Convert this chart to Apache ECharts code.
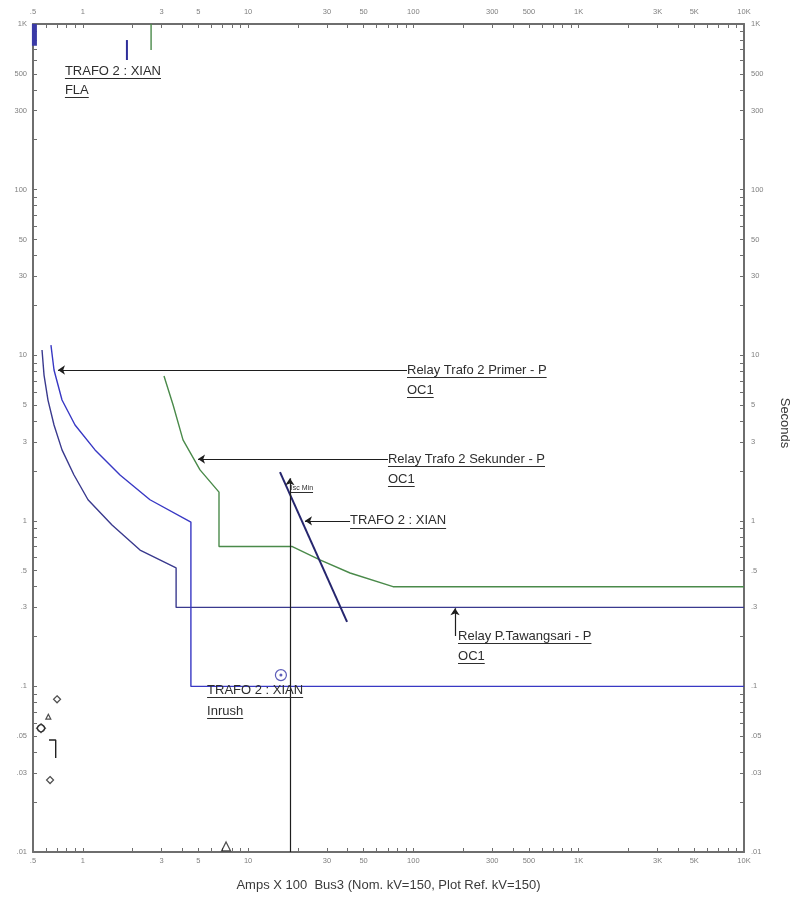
<!DOCTYPE html>
<html><head><meta charset="utf-8">
<script src="https://cdn.jsdelivr.net/npm/echarts@6/dist/echarts.min.js"></script>
<style>html,body{margin:0;padding:0;background:#fff}#c{width:797px;height:902px}</style>
</head><body><div id="c"></div>
<script>
// ---- axis ticks / labels (real values) ----
const xLabelValues = [0.5, 1, 3, 5, 10, 30, 50, 100, 300, 500, 1000, 3000, 5000, 10000];
const xLabelTexts  = ['.5', '1', '3', '5', '10', '30', '50', '100', '300', '500', '1K', '3K', '5K', '10K'];
const yLabelValues = [0.01, 0.03, 0.05, 0.1, 0.3, 0.5, 1, 3, 5, 10, 30, 50, 100, 300, 500, 1000];
const yLabelTexts  = ['.01', '.03', '.05', '.1', '.3', '.5', '1', '3', '5', '10', '30', '50', '100', '300', '500', '1K'];
const xRange = [0.5, 10000];
const yRange = [0.01, 1000];

// ---- curves [amps x100, seconds] ----
const relayTawangsari = [[0.567,10.75],[0.583,7.59],[0.616,5.36],[0.670,3.79],[0.749,2.68],[0.885,1.89],[1.076,1.34],[1.503,0.943],[2.22,0.666],[3.67,0.519],[3.67,0.3],[10000,0.3]];
const relayPrimer = [[0.642,11.5],[0.670,8.14],[0.749,5.36],[0.898,3.79],[1.186,2.68],[1.68,1.89],[2.55,1.34],[4.51,0.983],[4.51,0.1],[10000,0.1]];
const relaySekunder = [[3.10,7.48],[3.52,5.0],[4.04,3.08],[5.12,2.03],[6.67,1.49],[6.67,0.7],[18.4,0.7],[27.2,0.58],[41.4,0.484],[75.3,0.4],[10000,0.4]];
const trafoDamage = [[15.6,1.97],[39.7,0.245]];
const iscMin = [[17.9,0.01],[17.9,1.81]];
const flaPrimer = [[1.85,800],[1.85,606]];
const flaSekunder = [[2.59,1000],[2.59,697]];
const flaTawangsari = [[0.51,1000],[0.51,740]];
const inrushPoint = [[15.8,0.117]];
const diamondMarks = [[0.699,0.0836],[0.634,0.0272]];
const triangleMarks = [[0.619,0.0656]];
const circleMarks = [[0.559,0.0559]];
const bracketMark = [[0.625,0.0475],[0.686,0.0475],[0.686,0.037]];
const aMarks = [[7.36,0.0108]];

// ---- annotation arrows: [tail, head] ----
const arrowPrimer = [[91.5,8.14],[0.708,8.14]];
const arrowSekunder = [[70.2,2.36],[4.98,2.36]];
const arrowTrafo = [[41.4,1.0],[22.1,1.0]];
const arrowTawangsari = [[178.6,0.2015],[178.6,0.2965]];

// ---- annotation texts ----
const notePrimer = ['Relay Trafo 2 Primer - P', 'OC1'];
const noteSekunder = ['Relay Trafo 2 Sekunder - P', 'OC1'];
const noteTrafo = ['TRAFO 2 : XIAN'];
const noteTawangsari = ['Relay P.Tawangsari - P', 'OC1'];
const noteInrush = ['TRAFO 2 : XIAN', 'Inrush'];
const noteFla = ['TRAFO 2 : XIAN', 'FLA'];
const noteIsc = ['Isc Min'];
const anchorInrush = [5.65, 0.0951];
const anchorFla = [0.78, 520];
const anchorIsc = [17.9, 1.58];

const L = v => Math.log10(v);
const T = arr => arr.map(p => [L(p[0]), L(p[1])]);

function minorTicks(lo, hi) {
  const out = [];
  for (let e = Math.floor(L(lo)); e <= Math.ceil(L(hi)); e++) {
    for (let m = 1; m <= 9; m++) {
      const v = m * Math.pow(10, e);
      if (v >= lo * 0.999 && v <= hi * 1.001) out.push(L(v));
    }
  }
  return out;
}
function lookup(vals, texts) {
  return function (v) {
    let best = 0, bd = 1e9;
    vals.forEach((x, i) => { const d = Math.abs(L(x) - v); if (d < bd) { bd = d; best = i; } });
    return bd < 1e-3 ? texts[best] : '';
  };
}

const FONT = 'Liberation Sans, Arial, sans-serif';
const AX = '#6e6e6e';
const labelStyle = { fontSize: 7.5, color: '#808080', fontFamily: FONT };

function xAxisDef(pos, margin, named) {
  return {
    type: 'value', position: pos, min: L(xRange[0]), max: L(xRange[1]),
    axisLine: { show: true, onZero: false, lineStyle: { color: AX, width: 2 } },
    axisTick: { show: true, inside: true, length: 4, customValues: minorTicks(xRange[0], xRange[1]), lineStyle: { color: AX, width: 1 } },
    axisLabel: Object.assign({ customValues: xLabelValues.map(L), formatter: lookup(xLabelValues, xLabelTexts), margin: margin }, labelStyle),
    splitLine: { show: false },
    name: named ? 'Amps X 100  Bus3 (Nom. kV=150, Plot Ref. kV=150)' : '',
    nameLocation: 'middle', nameGap: 27,
    nameTextStyle: { fontSize: 13, color: '#3a3a3a', fontFamily: FONT }
  };
}
function yAxisDef(pos, margin, named) {
  return {
    type: 'value', position: pos, min: L(yRange[0]), max: L(yRange[1]),
    axisLine: { show: true, onZero: false, lineStyle: { color: AX, width: 2 } },
    axisTick: { show: true, inside: true, length: 4, customValues: minorTicks(yRange[0], yRange[1]), lineStyle: { color: AX, width: 1 } },
    axisLabel: Object.assign({ customValues: yLabelValues.map(L), formatter: lookup(yLabelValues, yLabelTexts), margin: margin }, labelStyle),
    splitLine: { show: false },
    name: named ? 'Seconds' : '',
    nameLocation: 'middle', nameGap: 34, nameRotate: -90,
    nameTextStyle: { fontSize: 13, color: '#3a3a3a', fontFamily: FONT, padding: [0, 30, 0, 0] }
  };
}

function lineSeries(data, color, width) {
  return { type: 'line', data: T(data), showSymbol: false, symbol: 'none', silent: true, animation: false,
    lineStyle: { color: color, width: width || 1.4 }, z: 3 };
}
function arrowSeries(seg) {
  return { type: 'lines', coordinateSystem: 'cartesian2d', silent: true, animation: false,
    symbol: ['none', 'arrow'], symbolSize: 7,
    lineStyle: { color: '#1e1e1e', width: 1.2, opacity: 1 }, data: [{ coords: T(seg) }], z: 4 };
}
function scatterSeries(data, symbol, size, color) {
  return { type: 'scatter', data: T(data), symbol: symbol, symbolSize: size, silent: true, animation: false,
    itemStyle: { color: 'transparent', borderColor: color, borderWidth: 1.2 }, z: 4 };
}

const chart = echarts.init(document.getElementById('c'), null, { renderer: 'canvas' });
chart.setOption({
  animation: false,
  backgroundColor: '#fff',
  grid: { left: 33, right: 53, top: 24, bottom: 50, outerBoundsMode: 'none', containLabel: false },
  xAxis: [xAxisDef('bottom', 5, true), xAxisDef('top', 8, false)],
  yAxis: [yAxisDef('left', 6, false), yAxisDef('right', 7, true)],
  series: [
    lineSeries(relayTawangsari, '#3a3a8e', 1.4),
    lineSeries(relayPrimer, '#3838c4', 1.4),
    lineSeries(relaySekunder, '#4a8a4a', 1.4),
    lineSeries(trafoDamage, '#26266e', 2),
    lineSeries(flaPrimer, '#2e2e9a', 2),
    lineSeries(flaSekunder, '#4a8a4a', 1.4),
    lineSeries(flaTawangsari, '#3a3aa6', 5),
    lineSeries(bracketMark, '#222', 1.4),
    arrowSeries(iscMin),
    arrowSeries(arrowPrimer),
    arrowSeries(arrowSekunder),
    arrowSeries(arrowTrafo),
    arrowSeries(arrowTawangsari),
    scatterSeries(inrushPoint, 'circle', 11, '#3434a8'),
    { type: 'scatter', data: T(inrushPoint), symbol: 'circle', symbolSize: 3, silent: true, itemStyle: { color: '#3434a8' }, z: 5 },
    scatterSeries(diamondMarks, 'diamond', 7, '#222'),
    scatterSeries(triangleMarks, 'triangle', 5, '#222'),
    scatterSeries(circleMarks, 'circle', 7, '#222'),
    scatterSeries(circleMarks, 'diamond', 9, '#222'),
    scatterSeries(aMarks, 'triangle', 9, '#222')
  ]
});

// ---- underlined annotation texts ----
const meas = document.createElement('canvas').getContext('2d');
function textWidth(t, size) { meas.font = size + 'px ' + FONT; return meas.measureText(t).width; }
const graphics = [];
function addNote(anchor, lines, dx, size, lh) {
  const p = chart.convertToPixel({ gridIndex: 0 }, [L(anchor[0]), L(anchor[1])]);
  lines.forEach((t, i) => {
    const x = p[0] + dx, y = p[1] + i * lh;
    const w = textWidth(t, size);
    graphics.push({ type: 'text', x: x, y: y, silent: true, z: 10,
      style: { text: t, fill: '#2e2e2e', font: size + 'px ' + FONT, verticalAlign: 'middle', align: 'left' } });
    const uy = Math.round(y + size * 0.55) + 0.5;
    graphics.push({ type: 'line', silent: true, z: 10,
      shape: { x1: x, y1: uy, x2: x + w, y2: uy }, style: { stroke: '#2e2e2e', lineWidth: 1 } });
  });
}
addNote(arrowPrimer[0], notePrimer, 0, 13, 20);
addNote(arrowSekunder[0], noteSekunder, 0, 13, 20);
addNote(arrowTrafo[0], noteTrafo, 0, 13, 20);
addNote(arrowTawangsari[0], noteTawangsari, 3, 13, 20);
addNote(anchorInrush, noteInrush, 0, 13, 21);
addNote(anchorFla, noteFla, 0, 13, 19);
addNote(anchorIsc, noteIsc, 1, 7, 9);
chart.setOption({ graphic: graphics });
</script>
</body></html>
